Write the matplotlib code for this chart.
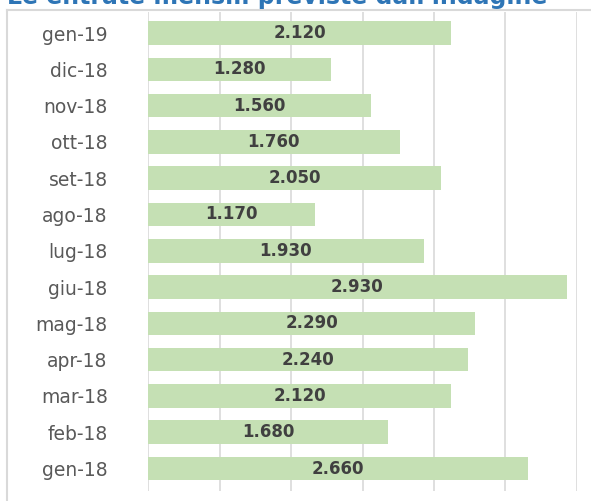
import matplotlib
matplotlib.use("Agg")
import matplotlib.pyplot as plt
from matplotlib.lines import Line2D

# dati (dal basso verso l'alto)
months = ["gen-18", "feb-18", "mar-18", "apr-18", "mag-18", "giu-18", "lug-18",
          "ago-18", "set-18", "ott-18", "nov-18", "dic-18", "gen-19"]
entrate = [2660, 1680, 2120, 2240, 2290, 2930, 1930, 1170, 2050, 1760, 1560, 1280, 2120]
xticks = [0, 500, 1000, 1500, 2000, 2500, 3000]
title = "Le entrate mensili previste dall'indagine"

W, H = 591, 501
fig = plt.figure(figsize=(W / 100, H / 100), dpi=100)

# cornice grigia chiara: solo lato superiore e sinistro
top_y = 1 - 10 / H
left_x = 7 / W
fig.lines.append(Line2D([left_x, 1.0], [top_y, top_y], transform=fig.transFigure,
                        color="#D9D9D9", linewidth=1.5))
fig.lines.append(Line2D([left_x, left_x], [0.0, top_y], transform=fig.transFigure,
                        color="#D9D9D9", linewidth=1.5))

# titolo tagliato in alto
fig.text(7 / W, 1 - 9 / H, title, color="#2E75B6", fontsize=17, fontweight="bold",
         ha="left", va="bottom", transform=fig.transFigure)

ax = fig.add_axes([148 / W, 10 / H, (577 - 148) / W, (491 - 12) / H])
pos = list(range(len(months)))
ax.barh(pos, entrate, height=0.65, color="#C5E0B4", zorder=2)

for p, v in zip(pos, entrate):
    lbl = f"{v:,}".replace(",", ".")
    ax.text(v / 2, p, lbl, ha="center", va="center", fontsize=12, fontweight="bold",
            color="#404040", zorder=3)

ax.set_xlim(0, 3000)
ax.set_ylim(-0.62, 12.58)
ax.set_xticks(xticks)
ax.set_xticklabels([])
ax.tick_params(axis="x", length=0)
ax.grid(axis="x", color="#D9D9D9", linewidth=1.2, zorder=0)
ax.set_yticks(pos)
ax.set_yticklabels(months, fontsize=13.5, color="#595959")
ax.tick_params(axis="y", length=0, pad=29)
for s in ax.spines.values():
    s.set_visible(False)

fig.savefig("out.png", dpi=100)
